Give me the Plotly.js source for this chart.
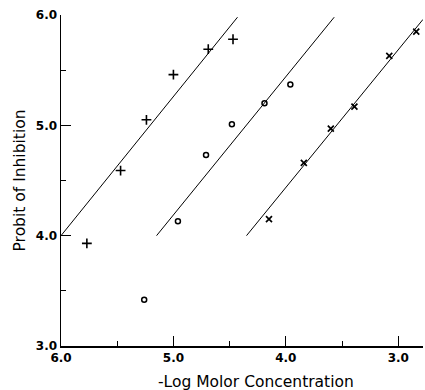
<!DOCTYPE html>
<html><head><meta charset="utf-8">
<script src="https://cdn.plot.ly/plotly-3.0.1.min.js"></script>
<style>html,body{margin:0;padding:0;background:#fff}</style>
</head><body>
<div id="chart" style="width:425px;height:390px"></div>
<script>
// Series: plus markers
const plusX = [5.77, 5.47, 5.24, 5.00, 4.69, 4.47];
const plusY = [3.93, 4.59, 5.05, 5.46, 5.69, 5.78];
const plusLineX = [6.00, 4.43];
const plusLineY = [4.00, 5.98];
// Series: open circles
const circX = [5.26, 4.96, 4.71, 4.48, 4.19, 3.96];
const circY = [3.42, 4.13, 4.73, 5.01, 5.20, 5.37];
const circLineX = [5.15, 3.57];
const circLineY = [4.00, 5.98];
// Series: x markers
const crossX = [4.15, 3.84, 3.60, 3.39, 3.08, 2.84];
const crossY = [4.15, 4.66, 4.97, 5.17, 5.63, 5.85];
const crossLineX = [4.35, 2.78];
const crossLineY = [4.00, 5.96];
// Axis ticks
const xTicks = [6.0, 5.0, 4.0, 3.0];
const yTicks = [3.0, 4.0, 5.0, 6.0];
const xTitle = "-Log Molor Concentration";
const yTitle = "Probit of Inhibition";

const lineStyle = {color: '#000', width: 1};
const traces = [
  {x: plusLineX, y: plusLineY, mode: 'lines', line: lineStyle},
  {x: circLineX, y: circLineY, mode: 'lines', line: lineStyle},
  {x: crossLineX, y: crossLineY, mode: 'lines', line: lineStyle},
  {x: plusX, y: plusY, mode: 'markers', marker: {symbol: 'cross-thin', size: 7, line: {color: '#000', width: 1.6}}},
  {x: circX, y: circY, mode: 'markers', marker: {symbol: 'circle-open', size: 5, color: '#000', line: {color: '#000', width: 1.5}}},
  {x: crossX, y: crossY, mode: 'markers', marker: {symbol: 'x-thin', size: 6, line: {color: '#000', width: 1.7}}}
];
const tickFont = {family: 'DejaVu Sans', size: 12, color: '#000', weight: 'bold'};
const titleFont = {family: 'DejaVu Sans', size: 15.5, color: '#000'};
const layout = {
  width: 425, height: 390,
  margin: {l: 61, r: 2, t: 15, b: 44},
  showlegend: false,
  paper_bgcolor: '#fff', plot_bgcolor: '#fff',
  xaxis: {
    range: [6.0, 2.78], tickvals: xTicks, ticktext: xTicks.map(v => v.toFixed(1)),
    ticks: 'inside', ticklen: 10, tickwidth: 1.2, tickcolor: '#000',
    minor: {tickvals: [5.5, 4.5, 3.5], ticks: 'inside', ticklen: 5, tickwidth: 1, tickcolor: '#000'},
    showgrid: false, zeroline: false, showline: true, linecolor: '#000', linewidth: 1.5,
    tickfont: tickFont
  },
  yaxis: {
    range: [3.0, 6.0], tickvals: yTicks, ticktext: yTicks.map(v => v.toFixed(1)),
    ticks: 'inside', ticklen: 10, tickwidth: 1.2, tickcolor: '#000',
    minor: {tickvals: [3.5, 4.5, 5.5], ticks: 'inside', ticklen: 5, tickwidth: 1, tickcolor: '#000'},
    showgrid: false, zeroline: false, showline: true, linecolor: '#000', linewidth: 1.5,
    tickfont: tickFont,
    title: {text: yTitle, font: titleFont, standoff: 6}
  },
  annotations: [{
    text: xTitle, xref: 'paper', yref: 'paper', x: 0.539, y: -0.109,
    xanchor: 'center', yanchor: 'middle', showarrow: false, font: titleFont
  }]
};
Plotly.newPlot('chart', traces, layout, {displayModeBar: false, staticPlot: true});
</script>
</body></html>
